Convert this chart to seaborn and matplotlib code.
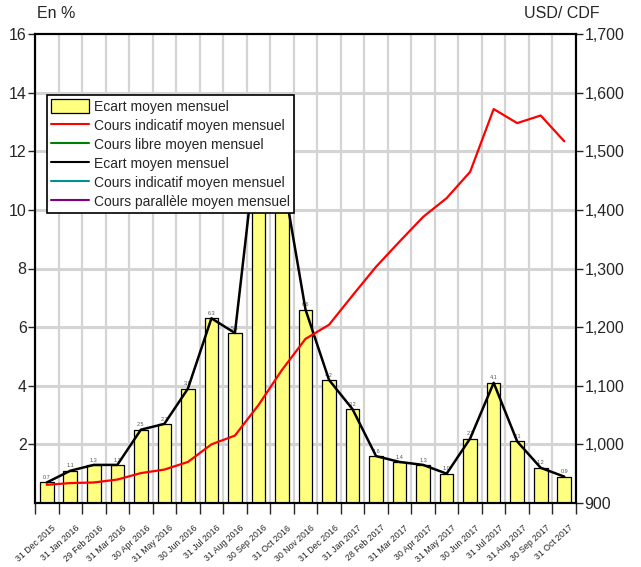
import numpy as np
import pandas as pd
import matplotlib
matplotlib.use("Agg")
import matplotlib.pyplot as plt
import seaborn as sns
from matplotlib.patches import Patch
from matplotlib.lines import Line2D
from matplotlib.ticker import FixedLocator, FuncFormatter
import matplotlib.transforms as mtransforms

# Mois (fin de mois)
mois = ["31 Dec 2015", "31 Jan 2016", "29 Feb 2016", "31 Mar 2016", "30 Apr 2016",
        "31 May 2016", "30 Jun 2016", "31 Jul 2016", "31 Aug 2016", "30 Sep 2016",
        "31 Oct 2016", "30 Nov 2016", "31 Dec 2016", "31 Jan 2017", "28 Feb 2017",
        "31 Mar 2017", "30 Apr 2017", "31 May 2017", "30 Jun 2017", "31 Jul 2017",
        "31 Aug 2017", "30 Sep 2017", "31 Oct 2017"]

# Ecart moyen mensuel (en %)
ecart = [0.7, 1.1, 1.3, 1.3, 2.5, 2.7, 3.9, 6.3, 5.8, 12.8, 11.3, 6.6,
         4.2, 3.2, 1.6, 1.4, 1.3, 1.0, 2.2, 4.1, 2.1, 1.2, 0.9]

# Cours indicatif moyen mensuel (USD/CDF)
cours_indicatif = [931, 934, 935, 940, 951, 957, 970, 1000, 1015, 1067, 1127, 1180,
                   1204, 1254, 1303, 1346, 1388, 1420, 1465, 1572, 1548, 1561, 1517]

etiquettes_legende = ["Ecart moyen mensuel", "Cours indicatif moyen mensuel",
                      "Cours libre moyen mensuel", "Ecart moyen mensuel",
                      "Cours indicatif moyen mensuel", "Cours parallèle moyen mensuel"]

df = pd.DataFrame({"mois": mois, "ecart": ecart, "cours": cours_indicatif})
pos = np.arange(len(df))

sns.set_style("white")
plt.rcParams["font.family"] = ["Liberation Sans", "DejaVu Sans"]

fig = plt.figure(figsize=(6.41, 5.67), dpi=100)
ax = fig.add_axes([35 / 641, 64 / 567, 541 / 641, 469 / 567])

# grille
ax.set_axisbelow(True)
for k in range(len(df) + 1):
    ax.axvline(k - 0.5, color="#d4d4d4", lw=1.6, zorder=0)
for v in range(2, 16, 2):
    ax.axhline(v, color="#d4d4d4", lw=2.2, zorder=0)

# barres
sns.barplot(data=df, x="mois", y="ecart", color="#ffff80", edgecolor="black",
            linewidth=0.9, width=0.58, saturation=1, ax=ax, zorder=2)
for i, v in enumerate(df["ecart"]):
    if v < 9:
        ax.text(i, v + 0.08, f"{v:.1f}", ha="center", va="bottom", fontsize=4,
                color="#555555", zorder=3)

# ligne de l'ecart
sns.lineplot(x=pos, y=df["ecart"].values, color="black", lw=1.8, ax=ax, zorder=4)

ax.set_xlim(-0.5, len(df) - 0.5)
ax.set_ylim(0, 16)
ax.set_xlabel("")
ax.set_ylabel("")
ax.set_yticks(range(2, 17, 2))
ax.tick_params(axis="y", direction="out", length=5, width=1, pad=1, labelsize=11.5, left=True)

# ticks x aux limites, etiquettes au centre
ax.xaxis.set_minor_locator(FixedLocator(np.arange(len(df) + 1) - 0.5))
ax.tick_params(axis="x", which="minor", direction="out", length=8, width=1, bottom=True)
ax.set_xticks(pos)
ax.set_xticklabels(mois, rotation=42, ha="right", va="center", rotation_mode="anchor",
                   fontsize=6.3)
ax.tick_params(axis="x", which="major", length=0, pad=17)
offset = mtransforms.ScaledTranslation(8 / 100, 0, fig.dpi_scale_trans)
for lab in ax.get_xticklabels():
    lab.set_transform(lab.get_transform() + offset)

for s in ax.spines.values():
    s.set_color("black")
    s.set_linewidth(1.5)

# axe droit : cours indicatif
ax2 = ax.twinx()
sns.lineplot(x=pos, y=df["cours"].values, color="#ff0000", lw=1.6, ax=ax2, zorder=5)
ax2.set_ylim(900, 1700)
ax2.set_yticks(range(900, 1701, 100))
ax2.yaxis.set_major_formatter(FuncFormatter(lambda v, p: f"{int(v):,}"))
ax2.tick_params(axis="y", direction="out", length=5, width=1, pad=1, labelsize=11.5, right=True)
ax2.set_ylabel("")
for s in ax2.spines.values():
    s.set_color("black")
    s.set_linewidth(1.5)

fig.text(37 / 641, 1 - 13 / 567, "En %", fontsize=11.5, va="center", ha="left")
fig.text(600 / 641, 1 - 13 / 567, "USD/ CDF", fontsize=11.5, va="center", ha="right")

handles = [
    Patch(facecolor="#ffff80", edgecolor="black", linewidth=0.9),
    Line2D([], [], color="#ff0000", lw=1.5),
    Line2D([], [], color="#008000", lw=1.5),
    Line2D([], [], color="black", lw=1.5),
    Line2D([], [], color="#009090", lw=1.5),
    Line2D([], [], color="#800080", lw=1.5),
]
leg = ax2.legend(handles, etiquettes_legende, loc="upper left",
                 bbox_to_anchor=(12 / 541, (503 - 95) / 469), borderaxespad=0,
                 fontsize=10, frameon=True, fancybox=False, framealpha=1,
                 edgecolor="black", handlelength=2.7, handleheight=1.2,
                 labelspacing=0.3, handletextpad=0.35, borderpad=0.3)
leg.get_frame().set_linewidth(1.2)
leg.set_zorder(10)

fig.savefig("out.png", dpi=100)
